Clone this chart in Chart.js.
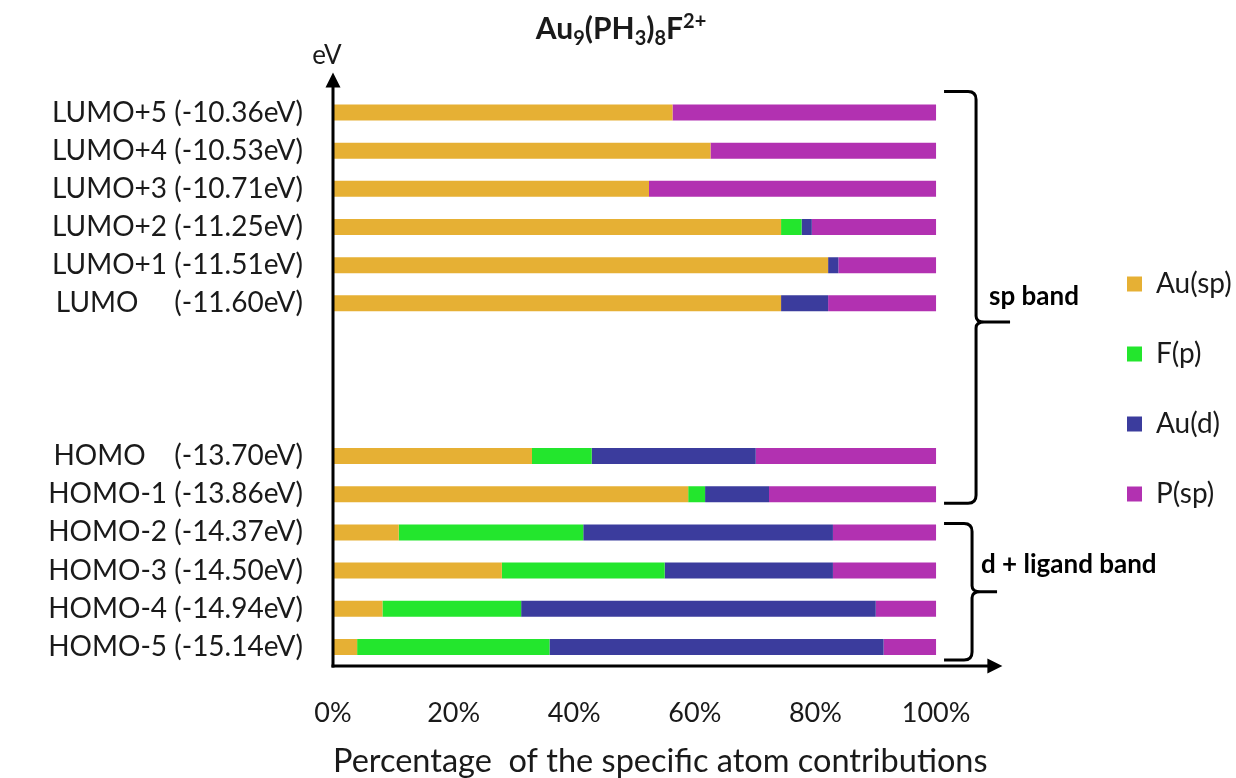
<!DOCTYPE html>
<html>
<head>
<meta charset="utf-8">
<title>Au9(PH3)8F2+ orbital contributions</title>
<script src="https://cdn.jsdelivr.net/npm/chart.js@4.4.1/dist/chart.umd.min.js"></script>
<style>
  html, body { margin: 0; padding: 0; background: #fff; }
  #chart { display: block; }
</style>
</head>
<body>
<canvas id="chart" width="1236" height="778"></canvas>
<script>
// Orbital levels from top to bottom; the empty rows open up the HOMO-LUMO gap
const levels = [
    'LUMO+5 (-10.36eV)', 'LUMO+4 (-10.53eV)', 'LUMO+3 (-10.71eV)',
    'LUMO+2 (-11.25eV)', 'LUMO+1 (-11.51eV)', 'LUMO     (-11.60eV)',
    '', '', '',
    'HOMO    (-13.70eV)', 'HOMO-1 (-13.86eV)', 'HOMO-2 (-14.37eV)',
    'HOMO-3 (-14.50eV)', 'HOMO-4 (-14.94eV)', 'HOMO-5 (-15.14eV)'
];

// Atom contributions in %, one value per level
const auSp = [56.3, 62.6, 52.4, 74.3, 82.1, 74.3, null, null, null, 33.0, 58.9, 10.9, 28.0,  8.2,  4.0];
const fP   = [ 0,    0,    0,    3.4,  0,    0,   null, null, null,  9.9,  2.8, 30.6, 27.0, 23.0, 31.9];
const auD  = [ 0,    0,    0,    1.7,  1.7,  7.8, null, null, null, 27.2, 10.6, 41.4, 27.9, 58.8, 55.4];
const pSp  = [43.7, 37.4, 47.6, 20.6, 16.2, 17.9, null, null, null, 29.9, 27.7, 17.1, 17.1, 10.0,  8.7];

const seriesNames = ['Au(sp)', 'F(p)', 'Au(d)', 'P(sp)'];
const xTicks = [0, 20, 40, 60, 80, 100];

// Bands: label + first/last level index covered by the brace
const bandNames = ['sp band', 'd + ligand band'];
const bandSpans = [[0, 10], [11, 14]];

const colors = ['#E6B034', '#23E62D', '#3B3C9D', '#B231B1'];
const FONT = 'Lato, "Open Sans", sans-serif';

// brace geometry, per band
const braceStyle = [
    { padTop: 21, padBottom: 9,  tip: 0.56, arm: 40, reach: 74, textDx: 13, textDy: -25 },
    { padTop: 9,  padBottom: 13, tip: 0.5,  arm: 36, reach: 61, textDx: 9,  textDy: -27 }
];

// ── axes with arrows, title, "eV" label and band braces ──────────────
const decorations = {
    id: 'decorations',
    afterDraw(chart) {
        const { ctx, chartArea: area, scales: { x, y } } = chart;
        const x0 = x.getPixelForValue(0);
        const xEnd = x.getPixelForValue(111);
        const yBase = area.bottom;
        const yTop = area.top - 21;

        ctx.save();
        ctx.strokeStyle = '#000';
        ctx.fillStyle = '#000';
        ctx.lineWidth = 3;

        // vertical axis
        ctx.beginPath();
        ctx.moveTo(x0, yBase + 1.5);
        ctx.lineTo(x0, yTop + 12);
        ctx.stroke();
        ctx.beginPath();
        ctx.moveTo(x0, yTop);
        ctx.lineTo(x0 - 7.5, yTop + 15);
        ctx.lineTo(x0 + 7.5, yTop + 15);
        ctx.closePath();
        ctx.fill();

        // horizontal axis
        ctx.beginPath();
        ctx.moveTo(x0 - 1.5, yBase);
        ctx.lineTo(xEnd - 12, yBase);
        ctx.stroke();
        ctx.beginPath();
        ctx.moveTo(xEnd, yBase);
        ctx.lineTo(xEnd - 15, yBase - 7.5);
        ctx.lineTo(xEnd - 15, yBase + 7.5);
        ctx.closePath();
        ctx.fill();

        // axis unit
        ctx.font = '26px ' + FONT;
        ctx.textAlign = 'center';
        ctx.textBaseline = 'middle';
        ctx.fillStyle = '#1a1a1a';
        ctx.fillText('eV', x0 - 6, yTop - 17);

        // title with sub/superscripts: [text, shift] (1 = sub, -1 = super)
        const parts = [['Au', 0], ['9', 1], ['(PH', 0], ['3', 1], [')', 0], ['8', 1], ['F', 0], ['2+', -1]];
        const big = 'bold 30px ' + FONT, small = 'bold 20px ' + FONT;
        ctx.textAlign = 'left';
        ctx.textBaseline = 'alphabetic';
        let w = 0;
        parts.forEach(([t, s]) => { ctx.font = s ? small : big; w += ctx.measureText(t).width; });
        let tx = chart.width / 2 - w / 2 + 3;
        const baseY = 39;
        parts.forEach(([t, s]) => {
            ctx.font = s ? small : big;
            ctx.fillText(t, tx, baseY + (s === 1 ? 6 : s === -1 ? -11 : 0));
            tx += ctx.measureText(t).width;
        });

        // braces
        const xRight = x.getPixelForValue(100);
        ctx.fillStyle = '#000';
        ctx.lineWidth = 3;
        bandSpans.forEach(([a, b], i) => {
            const st = braceStyle[i];
            const top = y.getPixelForValue(a) - st.padTop;
            const bot = y.getPixelForValue(b) + st.padBottom;
            const tipY = top + (bot - top) * st.tip;
            const xl = xRight + 8;
            const xv = xRight + st.arm;
            const xt = xRight + st.reach;
            const r = 8;
            ctx.beginPath();
            ctx.moveTo(xl, top);
            ctx.lineTo(xv - r, top);
            ctx.quadraticCurveTo(xv, top, xv, top + r);
            ctx.lineTo(xv, tipY - 6);
            ctx.quadraticCurveTo(xv, tipY, xv + 8, tipY);
            ctx.lineTo(xt, tipY);
            ctx.moveTo(xv + 8, tipY);
            ctx.quadraticCurveTo(xv, tipY, xv, tipY + 6);
            ctx.lineTo(xv, bot - r);
            ctx.quadraticCurveTo(xv, bot, xv - r, bot);
            ctx.lineTo(xl, bot);
            ctx.stroke();

            ctx.font = 'bold 26px ' + FONT;
            ctx.textBaseline = 'middle';
            ctx.fillText(bandNames[i], xv + st.textDx, tipY + st.textDy);
        });
        ctx.restore();
    }
};

const series = [auSp, fP, auD, pSp];

new Chart(document.getElementById('chart'), {
    type: 'bar',
    data: {
        labels: levels,
        datasets: series.map((d, i) => ({
            label: seriesNames[i],
            data: d,
            backgroundColor: colors[i],
            borderWidth: 0,
            barPercentage: 0.42,
            categoryPercentage: 1
        }))
    },
    options: {
        indexAxis: 'y',
        responsive: false,
        animation: false,
        devicePixelRatio: 1,
        plugins: {
            // empty title only reserves the header band; the formula is drawn by the plugin
            title: { display: true, text: '', font: { size: 22 }, padding: { top: 17, bottom: 50 } },
            legend: {
                position: 'right',
                maxWidth: 151,
                labels: {
                    boxWidth: 15,
                    boxHeight: 15,
                    padding: 42,
                    color: '#1a1a1a',
                    font: { family: FONT, size: 28 }
                }
            },
            tooltip: { enabled: false }
        },
        scales: {
            x: {
                stacked: true,
                min: 0,
                max: 124.7,
                grid: { display: false, drawTicks: false },
                border: { display: false },
                afterBuildTicks: (s) => { s.ticks = xTicks.map(v => ({ value: v })); },
                afterFit: (s) => { s.height = 112; },
                ticks: {
                    padding: 31,
                    color: '#1a1a1a',
                    font: { family: FONT, size: 27 },
                    callback: (v) => v + '%'
                },
                title: {
                    display: true,
                    align: 'start',
                    text: 'Percentage  of the specific atom contributions',
                    color: '#1a1a1a',
                    font: { family: FONT, size: 32.5, lineHeight: 1 },
                    padding: { top: 10, bottom: 0 }
                }
            },
            y: {
                stacked: true,
                grid: { display: false, drawTicks: false },
                border: { display: false },
                afterFit: (s) => { s.width = 333; },
                ticks: {
                    padding: 30,
                    autoSkip: false,
                    color: '#1a1a1a',
                    font: { family: FONT, size: 28 }
                }
            }
        }
    },
    plugins: [decorations]
});
</script>
</body>
</html>
